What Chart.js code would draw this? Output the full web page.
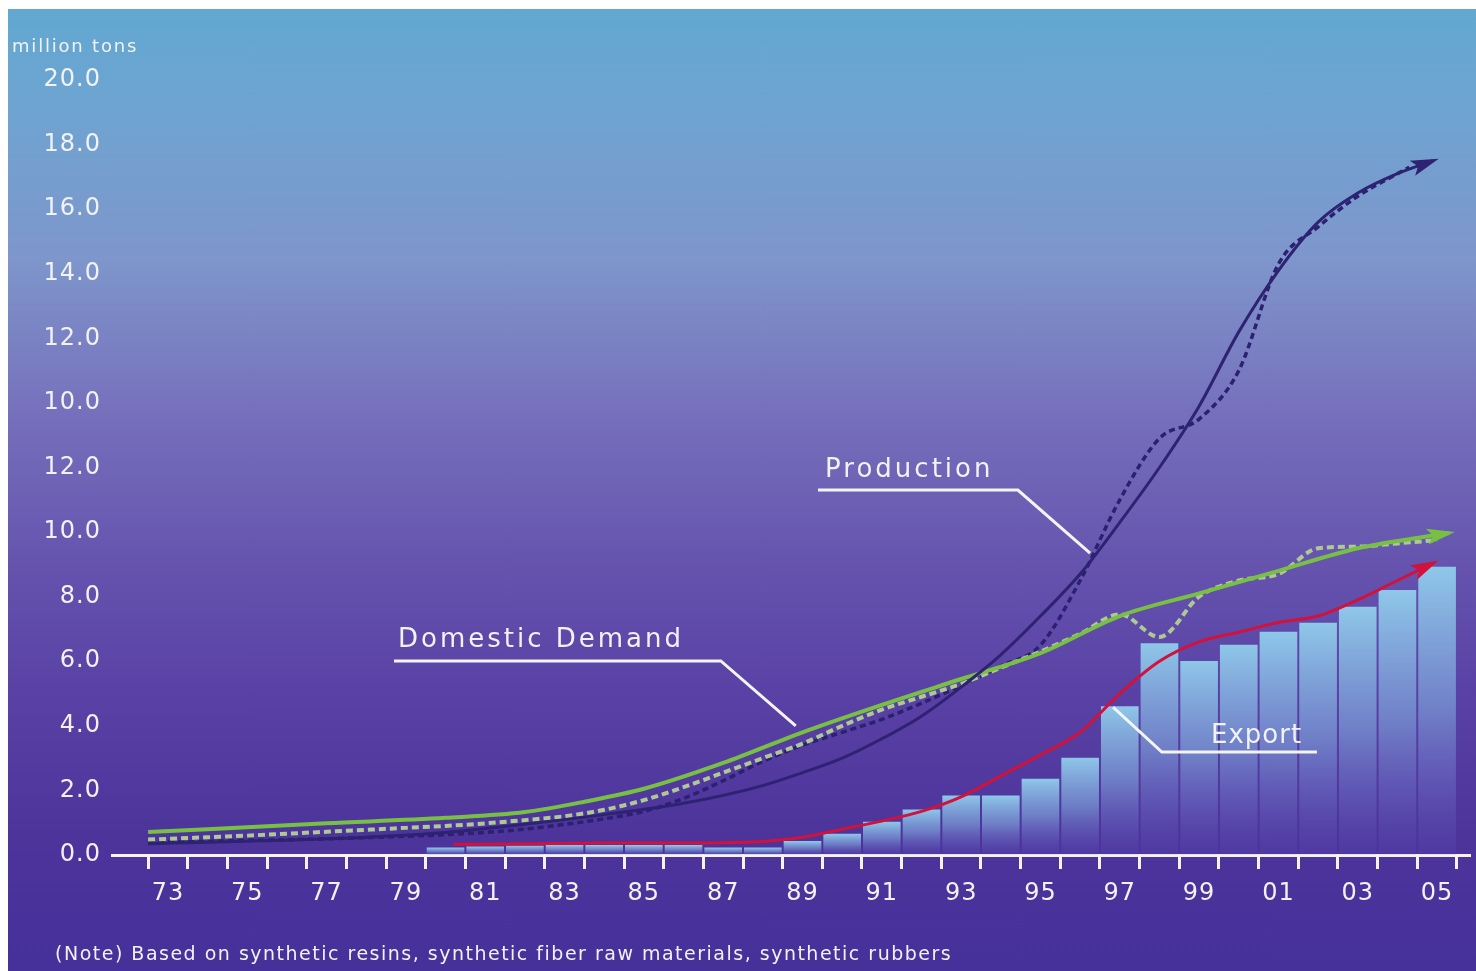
<!DOCTYPE html>
<html>
<head>
<meta charset="utf-8">
<script src="https://cdn.jsdelivr.net/npm/chart.js@4.4.0/dist/chart.umd.min.js"></script>
<style>
  html, body { margin: 0; padding: 0; background: #fff; }
  #frame {
    position: absolute; left: 8px; top: 9px; width: 1468px; height: 962px; overflow: hidden;
    background: linear-gradient(to bottom, #61a8d0 0%, #6ea4d1 10%, #7e96cb 26%, #7670bc 42%, #6553ae 58%, #5840a4 72%, #4c349b 86%, #46309a 100%);
  }
  #chart { position: absolute; left: 0; top: 0; }
  .txt { position: absolute; color: #f2f2f2; font-family: "DejaVu Sans", sans-serif; white-space: nowrap; }
  #unit { left: 4px; top: 26px; font-size: 18px; letter-spacing: 1.8px; }
  #note { left: 47px; top: 933px; font-size: 19px; letter-spacing: 1.5px; }
</style>
</head>
<body>
<div id="frame">
  <canvas id="chart" width="1468" height="962"></canvas>
  <div id="unit" class="txt">million tons</div>
  <div id="note" class="txt">(Note) Based on synthetic resins, synthetic fiber raw materials, synthetic rubbers</div>
</div>
<script>
// y tick labels as printed (the original repeats 10.0 / 12.0)
const yTickLabels = ['0.0', '2.0', '4.0', '6.0', '8.0', '10.0', '12.0', '10.0', '12.0', '14.0', '16.0', '18.0', '20.0'];
const labelYears = [1973, 1975, 1977, 1979, 1981, 1983, 1985, 1987, 1989, 1991, 1993, 1995, 1997, 1999, 2001, 2003, 2005];
const xTickLabels = ['73', '75', '77', '79', '81', '83', '85', '87', '89', '91', '93', '95', '97', '99', '01', '03', '05'];

// export bars
const barYears = [1980, 1981, 1982, 1983, 1984, 1985, 1986, 1987, 1988, 1989, 1990, 1991, 1992,
  1993, 1994, 1995, 1996, 1997, 1998, 1999, 2000, 2001, 2002, 2003, 2004, 2005];
const exportBars = [0.22, 0.25, 0.28, 0.3, 0.3, 0.3, 0.3, 0.22, 0.22, 0.42, 0.65, 1.02, 1.4,
  1.83, 1.83, 2.35, 3.0, 4.6, 6.55, 6.0, 6.5, 6.9, 7.18, 7.68, 8.2, 8.92];

// export trend (red)
const exportYears = [1980.2, 1982, 1984, 1986, 1987, 1988, 1989, 1990, 1991, 1992, 1993, 1994,
  1995, 1996, 1997, 1998, 1999, 2000, 2001, 2002, 2003, 2004, 2004.9];
const exportTrend = [0.33, 0.35, 0.37, 0.37, 0.38, 0.42, 0.55, 0.8, 1.05, 1.35, 1.8, 2.45,
  3.1, 3.8, 5.0, 6.0, 6.6, 6.9, 7.2, 7.4, 7.9, 8.5, 9.04];

// production trend (solid) and actual (dashed)
const prodTrendYears = [1972.5, 1977, 1980, 1982, 1984, 1986, 1988, 1989, 1990, 1991, 1992, 1993,
  1994, 1995, 1996, 1997, 1998, 1999, 2000, 2001, 2002, 2003, 2004, 2004.9];
const prodTrend = [0.35, 0.5, 0.7, 0.95, 1.25, 1.6, 2.15, 2.55, 3.0, 3.6, 4.3, 5.2,
  6.2, 7.4, 8.7, 10.3, 12.0, 13.9, 16.2, 18.1, 19.6, 20.5, 21.1, 21.5];
const prodActualYears = [1972.5, 1973, 1974, 1975, 1976, 1977, 1978, 1979, 1980, 1981, 1982, 1983,
  1984, 1985, 1986, 1987, 1988, 1989, 1990, 1991, 1992, 1993, 1994, 1995, 1996, 1997, 1998, 1999,
  2000, 2001, 2002, 2003, 2004, 2004.3];
const prodActual = [0.38, 0.4, 0.42, 0.45, 0.47, 0.5, 0.54, 0.58, 0.63, 0.7, 0.8, 0.95,
  1.12, 1.35, 1.75, 2.3, 2.9, 3.4, 3.8, 4.2, 4.7, 5.25, 5.85, 6.5, 8.5, 11.0, 12.9, 13.5,
  15.0, 18.3, 19.45, 20.4, 21.1, 21.3];

// domestic demand trend (solid) and actual (dashed)
const demandTrendYears = [1972.5, 1977, 1980, 1982, 1983.5, 1985, 1987, 1989, 1991, 1993, 1995,
  1997, 1999, 2001, 2003, 2005.3];
const demandTrend = [0.71, 0.98, 1.15, 1.33, 1.65, 2.05, 2.85, 3.8, 4.65, 5.45, 6.25,
  7.4, 8.1, 8.8, 9.5, 9.97];
const demandActualYears = [1972.5, 1973, 1974, 1975, 1976, 1977, 1978, 1979, 1980, 1981, 1982,
  1983, 1984, 1985, 1986, 1987, 1988, 1989, 1990, 1991, 1992, 1993, 1994, 1995, 1996, 1997,
  1998, 1999, 2000, 2001, 2002, 2003, 2004, 2005];
const demandActual = [0.48, 0.5, 0.55, 0.6, 0.66, 0.72, 0.78, 0.84, 0.9, 0.98, 1.08,
  1.2, 1.4, 1.7, 2.1, 2.55, 3.0, 3.45, 4.0, 4.5, 4.9, 5.3, 5.8, 6.3, 6.85, 7.45,
  6.75, 8.0, 8.5, 8.7, 9.5, 9.55, 9.65, 9.75];

const pairs = (xs, ys) => xs.map((x, i) => ({ x: x, y: ys[i] }));

// callout labels, anchored in data units (year, value)
const callouts = [
  { text: 'Production', at: [1989.57, 11.92], spacing: 3, path: [[1989.39, 11.3], [1994.43, 11.3], [1996.25, 9.35]] },
  { text: 'Domestic Demand', at: [1978.8, 6.66], spacing: 3, path: [[1978.7, 6.01], [1986.94, 6.01], [1988.83, 4.0]] },
  { text: 'Export', at: [1999.3, 3.69], spacing: 1, path: [[1996.83, 4.58], [1998.06, 3.19], [2001.97, 3.19]] }
];

const FONT = '"DejaVu Sans", sans-serif';

const overlay = {
  id: 'overlay',
  beforeDraw(chart) {
    chart.ctx.letterSpacing = '1px';
  },
  afterDatasetsDraw(chart) {
    const ctx = chart.ctx;
    const xs = chart.scales.x, ys = chart.scales.y;

    // arrow heads at the end of the trend lines
    chart.data.datasets.forEach((ds, i) => {
      if (!ds.arrow) return;
      const pts = chart.getDatasetMeta(i).data;
      const a = pts[pts.length - 2], b = pts[pts.length - 1];
      const ang = Math.atan2(b.y - a.y, b.x - a.x);
      ctx.save();
      ctx.translate(b.x, b.y);
      ctx.rotate(ang);
      ctx.beginPath();
      ctx.moveTo(6, 0);
      ctx.lineTo(-22, -8);
      ctx.lineTo(-16, 0);
      ctx.lineTo(-22, 8);
      ctx.closePath();
      ctx.fillStyle = ds.borderColor;
      ctx.fill();
      ctx.restore();
    });

    // callouts
    ctx.save();
    ctx.strokeStyle = '#f4f4f4';
    ctx.lineWidth = 3;
    ctx.fillStyle = '#f2f2f2';
    ctx.font = '26px ' + FONT;
    ctx.textBaseline = 'middle';
    ctx.textAlign = 'left';
    callouts.forEach(c => {
      ctx.beginPath();
      c.path.forEach((p, k) => {
        const px = xs.getPixelForValue(p[0]), py = ys.getPixelForValue(p[1]);
        if (k === 0) ctx.moveTo(px, py); else ctx.lineTo(px, py);
      });
      ctx.stroke();
      ctx.letterSpacing = c.spacing + 'px';
      ctx.fillText(c.text, xs.getPixelForValue(c.at[0]), ys.getPixelForValue(c.at[1]));
    });
    ctx.restore();
  }
};

function barFill(c) {
  const chart = c.chart;
  if (!chart.chartArea || c.type !== 'data' || !c.parsed) return 'rgba(135,195,230,0.8)';
  const ys = chart.scales.y;
  const top = ys.getPixelForValue(c.parsed.y), base = ys.getPixelForValue(0);
  const g = chart.ctx.createLinearGradient(0, top, 0, base);
  g.addColorStop(0, 'rgba(145,206,236,0.95)');
  g.addColorStop(0.5, 'rgba(128,168,222,0.62)');
  g.addColorStop(1, 'rgba(110,100,205,0.12)');
  return g;
}

const boundaries = [];
for (let yr = 1973; yr <= 2006; yr++) boundaries.push(yr - 0.5);

new Chart(document.getElementById('chart'), {
  data: {
    datasets: [
      {
        type: 'bar', label: 'Export (bars)', data: pairs(barYears, exportBars),
        backgroundColor: barFill, borderWidth: 0, barThickness: 37, order: 5
      },
      {
        type: 'line', label: 'Domestic Demand (actual)', data: pairs(demandActualYears, demandActual),
        borderColor: '#aec993', borderWidth: 4, borderDash: [7, 4], pointRadius: 0,
        cubicInterpolationMode: 'monotone', order: 3
      },
      {
        type: 'line', label: 'Production (actual)', data: pairs(prodActualYears, prodActual),
        borderColor: '#2c2070', borderWidth: 3.5, borderDash: [6, 4], pointRadius: 0,
        cubicInterpolationMode: 'monotone', order: 3
      },
      {
        type: 'line', label: 'Production', data: pairs(prodTrendYears, prodTrend),
        borderColor: '#2e2272', borderWidth: 3, pointRadius: 0,
        cubicInterpolationMode: 'monotone', arrow: true, order: 2
      },
      {
        type: 'line', label: 'Domestic Demand', data: pairs(demandTrendYears, demandTrend),
        borderColor: '#78c043', borderWidth: 4, pointRadius: 0,
        cubicInterpolationMode: 'monotone', arrow: true, order: 2
      },
      {
        type: 'line', label: 'Export', data: pairs(exportYears, exportTrend),
        borderColor: '#d0123c', borderWidth: 3, pointRadius: 0,
        cubicInterpolationMode: 'monotone', arrow: true, order: 1
      }
    ]
  },
  options: {
    responsive: false,
    animation: false,
    layout: { padding: { top: 71, right: 6, left: 0, bottom: 0 } },
    plugins: { legend: { display: false }, tooltip: { enabled: false } },
    scales: {
      x: {
        type: 'linear', min: 1971.59, max: 2005.83, offset: false,
        afterBuildTicks(scale) {
          const vals = boundaries.concat(labelYears).sort((a, b) => a - b);
          scale.ticks = vals.map(v => ({ value: v }));
        },
        afterFit(scale) { scale.height = 116; },
        grid: {
          offset: false, drawOnChartArea: false, drawTicks: true, tickLength: 14, tickWidth: 3,
          tickColor: (c) => (c.tick && Number.isInteger(c.tick.value)) ? 'rgba(0,0,0,0)' : '#f4f4f4'
        },
        border: { display: true, color: '#f4f4f4', width: 3 },
        ticks: {
          autoSkip: false, maxRotation: 0, padding: 10, color: '#f2f2f2',
          font: { family: FONT, size: 24 },
          callback: (v) => {
            const i = labelYears.indexOf(v);
            return i >= 0 ? xTickLabels[i] : '';
          }
        }
      },
      y: {
        min: 0, max: 24,
        afterBuildTicks(scale) {
          scale.ticks = yTickLabels.map((t, i) => ({ value: i * 2 }));
        },
        afterFit(scale) { scale.width = 104; },
        grid: { display: false, drawTicks: false },
        border: { display: false },
        ticks: {
          padding: 11, color: '#f2f2f2',
          font: { family: FONT, size: 24 },
          callback: (v, i) => yTickLabels[i]
        }
      }
    }
  },
  plugins: [overlay]
});
</script>
</body>
</html>
